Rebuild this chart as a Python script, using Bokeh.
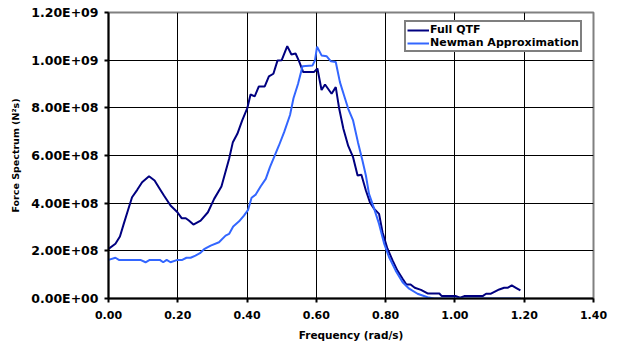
from bokeh.plotting import figure
from bokeh.models import (FixedTicker, NumeralTickFormatter, CustomJSTickFormatter,
                          Range1d, Legend, LegendItem)
from bokeh.embed import file_html
from bokeh.resources import INLINE

# ---- data ----
full_freq = [0.000, 0.020, 0.033, 0.044, 0.056, 0.068, 0.083, 0.097, 0.117, 0.133,
             0.145, 0.160, 0.179, 0.199, 0.211, 0.223, 0.232, 0.245, 0.266, 0.287,
             0.305, 0.326, 0.348, 0.359, 0.372, 0.386, 0.401, 0.410, 0.422, 0.434,
             0.451, 0.463, 0.476, 0.488, 0.500, 0.516, 0.528, 0.540, 0.550, 0.562,
             0.593, 0.603, 0.615, 0.625, 0.644, 0.656, 0.666, 0.678, 0.692, 0.706,
             0.719, 0.730, 0.743, 0.755, 0.767, 0.781, 0.791, 0.805, 0.820, 0.834,
             0.849, 0.860, 0.872, 0.884, 0.902, 0.921, 0.955, 0.962, 1.003, 1.015,
             1.027, 1.080, 1.090, 1.104, 1.128, 1.142, 1.152, 1.164, 1.176, 1.189]
full_qtf = [2.08, 2.30, 2.60, 3.13, 3.69, 4.25, 4.56, 4.88, 5.13, 4.95,
            4.67, 4.32, 3.90, 3.62, 3.37, 3.37, 3.27, 3.10, 3.27, 3.62,
            4.18, 4.70, 5.85, 6.56, 6.91, 7.47, 8.00, 8.56, 8.48, 8.90,
            8.90, 9.32, 9.43, 9.99, 10.00, 10.59, 10.24, 10.28, 9.96, 9.50,
            9.50, 9.65, 8.75, 8.98, 8.59, 8.87, 7.96, 7.12, 6.40, 5.93,
            5.16, 5.19, 4.53, 4.02, 3.76, 3.55, 2.78, 2.10, 1.60, 1.17,
            0.83, 0.59, 0.59, 0.45, 0.36, 0.21, 0.21, 0.10, 0.10, 0.03,
            0.10, 0.10, 0.20, 0.20, 0.38, 0.45, 0.45, 0.55, 0.45, 0.34]

newman_freq = [0.000, 0.020, 0.030, 0.092, 0.107, 0.119, 0.148, 0.158, 0.168, 0.179,
               0.199, 0.213, 0.225, 0.237, 0.251, 0.264, 0.276, 0.295, 0.319, 0.338,
               0.348, 0.360, 0.377, 0.391, 0.403, 0.413, 0.425, 0.439, 0.454, 0.466,
               0.478, 0.492, 0.507, 0.524, 0.534, 0.547, 0.560, 0.589, 0.596, 0.602,
               0.615, 0.630, 0.642, 0.656, 0.668, 0.680, 0.692, 0.706, 0.720, 0.733,
               0.743, 0.752, 0.767, 0.781, 0.796, 0.810, 0.829, 0.849, 0.868, 0.892,
               0.921, 0.940, 1.190]
newman = [1.62, 1.71, 1.62, 1.62, 1.52, 1.62, 1.62, 1.52, 1.62, 1.52,
          1.62, 1.62, 1.71, 1.71, 1.80, 1.90, 2.07, 2.22, 2.36, 2.64,
          2.71, 3.02, 3.24, 3.48, 3.72, 4.23, 4.36, 4.70, 5.02, 5.51,
          5.93, 6.42, 6.98, 7.70, 8.40, 9.00, 9.74, 9.78, 9.99, 10.57,
          10.20, 10.16, 9.95, 9.92, 9.08, 8.52, 7.96, 7.47, 6.56, 5.79,
          5.16, 4.39, 3.76, 3.13, 2.29, 1.73, 1.17, 0.68, 0.41, 0.20,
          0.05, 0.00, 0.00]
value_scale = 1e8  # values above are in units of 1e8 N^2 s

x_ticks = [0.0, 0.2, 0.4, 0.6, 0.8, 1.0, 1.2, 1.4]
y_ticks = [0.0, 2e8, 4e8, 6e8, 8e8, 1.0e9, 1.2e9]
series_names = ["Full QTF", "Newman Approximation"]
series_colors = ["#000080", "#3366FF"]

full_y = [v * value_scale for v in full_qtf]
newman_y = [v * value_scale for v in newman]

FONT = "DejaVu Sans"

p = figure(width=618, height=346, output_backend="svg", toolbar_location=None,
           x_range=Range1d(0, 1.4), y_range=Range1d(0, 1.2e9),
           min_border_left=108, min_border_right=25, min_border_top=12,
           min_border_bottom=48)
p.background_fill_color = "white"
p.border_fill_color = "white"
p.outline_line_color = "#808080"
p.outline_line_width = 2

r1 = p.line(full_freq, full_y, line_color=series_colors[0], line_width=2)
r2 = p.line(newman_freq, newman_y, line_color=series_colors[1], line_width=2)

# grid
p.xgrid.ticker = FixedTicker(ticks=x_ticks)
p.ygrid.ticker = FixedTicker(ticks=y_ticks)
for g in (p.xgrid[0], p.ygrid[0]):
    g.grid_line_color = "black"
    g.grid_line_width = 1

# axes
xa = p.xaxis[0]
ya = p.yaxis[0]
xa.ticker = FixedTicker(ticks=x_ticks)
ya.ticker = FixedTicker(ticks=y_ticks)
xa.formatter = NumeralTickFormatter(format="0.00")
ya.formatter = CustomJSTickFormatter(code="""
const s = tick.toExponential(2).toUpperCase();
const parts = s.split("E");
const sign = parts[1][0];
const d = parts[1].slice(1).padStart(2, "0");
return parts[0] + "E" + sign + d;
""")
for ax in (xa, ya):
    ax.axis_line_color = "black"
    ax.axis_line_width = 2
    ax.major_tick_line_color = "black"
    ax.major_tick_line_width = 2
    ax.major_tick_out = 4
    ax.major_tick_in = 0
    ax.minor_tick_line_color = None
    ax.major_label_text_font = FONT
    ax.major_label_text_font_style = "bold"
    ax.major_label_text_color = "black"
    ax.axis_label_text_font = FONT
    ax.axis_label_text_font_style = "bold"
    ax.axis_label_text_color = "black"

xa.major_label_text_font_size = "11px"
ya.major_label_text_font_size = "12.5px"

xa.axis_label = "Frequency (rad/s)"
xa.axis_label_text_font_size = "10.5px"
xa.major_label_standoff = 8
xa.axis_label_standoff = 7

ya.axis_label = "Force Spectrum (N²s)"
ya.axis_label_text_font_size = "9.5px"
ya.major_label_standoff = 6
ya.axis_label_standoff = 7

legend = Legend(items=[LegendItem(label=series_names[0], renderers=[r1]),
                       LegendItem(label=series_names[1], renderers=[r2])],
                location=(296, 246), margin=0, padding=1, spacing=0,
                glyph_width=22, glyph_height=12, label_height=12,
                label_standoff=1)
legend.label_text_font = FONT
legend.label_text_font_style = "bold"
legend.label_text_font_size = "11px"
legend.label_text_color = "black"
legend.border_line_color = "black"
legend.border_line_width = 2
legend.background_fill_color = "white"
legend.background_fill_alpha = 1.0
p.add_layout(legend)

open("out.html", "w").write(file_html(p, INLINE))
